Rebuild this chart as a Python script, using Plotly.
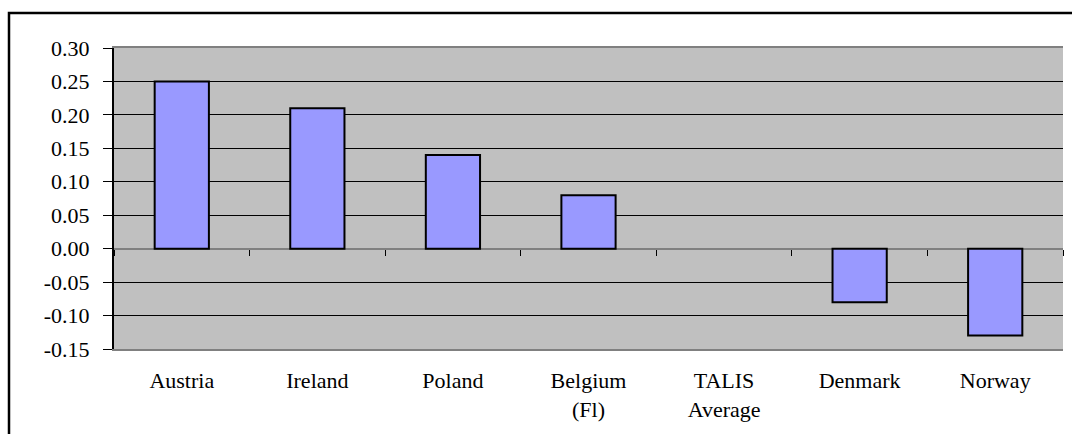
import plotly.graph_objects as go

categories = ["Austria", "Ireland", "Poland", "Belgium<br>(Fl)", "TALIS<br>Average", "Denmark", "Norway"]
values = [0.25, 0.21, 0.14, 0.08, None, -0.08, -0.13]
y_ticks = [-0.15, -0.10, -0.05, 0.00, 0.05, 0.10, 0.15, 0.20, 0.25, 0.30]
y_ticktext = [f"{v:.2f}" for v in y_ticks]

n = len(categories)
boundaries = [i - 0.5 for i in range(n + 1)]

FONT = "Liberation Serif"

fig = go.Figure()
fig.add_trace(go.Bar(
    x=list(range(n)), y=values,
    marker=dict(color="#9999FF", line=dict(color="black", width=2)),
    width=0.4, showlegend=False, hoverinfo="skip",
))
# invisible trace on secondary x axis (zero-line tick marks)
fig.add_trace(go.Scatter(
    x=boundaries, y=[0] * len(boundaries), xaxis="x2", mode="markers",
    marker=dict(opacity=0), showlegend=False, hoverinfo="skip",
))

fig.update_layout(
    width=1072, height=434,
    margin=dict(l=114, r=9, t=48, b=85),
    paper_bgcolor="white",
    plot_bgcolor="#C0C0C0",
    font=dict(family=FONT, size=22, color="black"),
    xaxis=dict(
        range=[-0.5, n - 0.5],
        tickvals=list(range(n)), ticktext=categories,
        ticks="", showgrid=False, zeroline=False,
        showline=True, linecolor="#808080", linewidth=2, mirror=True,
        ticklabelstandoff=11,
        tickfont=dict(family=FONT, size=22),
    ),
    xaxis2=dict(
        overlaying="x", anchor="free", position=1/3,
        range=[-0.5, n - 0.5], tickvals=boundaries,
        showticklabels=False, ticks="outside", ticklen=6, tickcolor="black", tickwidth=1,
        showgrid=False, zeroline=False, showline=False,
    ),
    yaxis=dict(
        range=[-0.15, 0.30],
        tickvals=y_ticks, ticktext=y_ticktext,
        ticks="outside", ticklen=9, tickcolor="black", tickwidth=1,
        showgrid=True, gridcolor="black", gridwidth=1,
        zeroline=True, zerolinecolor="#808080", zerolinewidth=2,
        showline=True, linecolor="black", linewidth=2,
        ticklabelstandoff=9,
        tickfont=dict(family=FONT, size=22),
    ),
    shapes=[
        dict(type="rect", xref="paper", yref="paper",
             x0=(9 - 114) / 949, x1=1.2, y0=-0.6, y1=(349 - 13) / 301,
             line=dict(color="black", width=2.5), fillcolor="rgba(0,0,0,0)", layer="below"),
    ],
    bargap=0.6,
)

fig.write_html(
    "out.html",
    config={"displayModeBar": False, "staticPlot": True},
    post_script="document.body.style.margin='0';document.body.style.overflow='hidden';",
)
